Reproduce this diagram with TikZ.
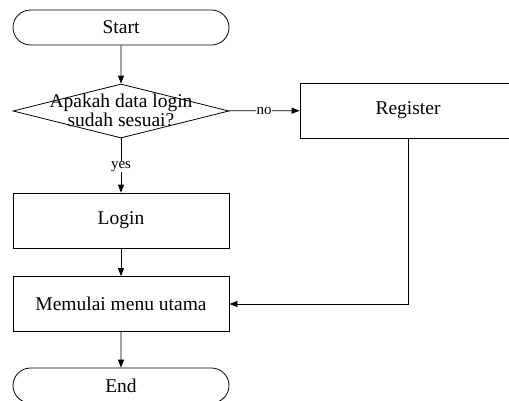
\documentclass[tikz,border=0pt]{standalone}
\usepackage{fontspec}
\setmainfont{Liberation Serif}
\usetikzlibrary{shapes.misc,shapes.geometric,arrows.meta}
\begin{document}
\begin{tikzpicture}[x=1pt,y=-1pt,
  base/.style={draw=black, line width=0.8pt, inner sep=0pt, font=\fontsize{19.5}{16}\selectfont},
  term/.style={base, rounded rectangle, minimum width=216pt, minimum height=35pt},
  procbox/.style={base, rectangle, minimum width=216pt, minimum height=55pt},
  decis/.style={base, diamond, minimum width=216pt, minimum height=54pt},
  lbl/.style={font=\fontsize{15}{15}\selectfont, fill=white, inner sep=0.5pt},
  conn/.style={draw=black, line width=0.8pt, -{Triangle[length=8pt,width=6pt]}}]
\useasboundingbox (0,0) rectangle (509,400);
\node[term] (start) at (121,27.5) {Start};
\node[decis] (dec) at (121,111) {};
\node[font=\fontsize{19.5}{16}\selectfont, align=center, inner sep=0pt] (dectext) at (121,110) {Apakah data login\\sudah sesuai?};
\node[procbox] (reg) at (408,110.5) {Register};
\node[procbox] (login) at (121,220.5) {Login};
\node[procbox] (menu) at (121,304) {Memulai menu utama};
\node[term] (end) at (121,385.5) {End};
\coordinate (corner) at (reg.south |- menu.east);
\draw[conn] (start) -- (dec);
\draw[conn] (dec) -- node[lbl] {no} (reg);
\draw[conn] (dec) -- node[lbl, pos=0.52] {yes} (login);
\draw[conn] (login) -- (menu);
\draw[conn] (reg.south) -- (corner) -- (menu.east);
\draw[conn] (menu) -- (end);
\end{tikzpicture}
\end{document}
